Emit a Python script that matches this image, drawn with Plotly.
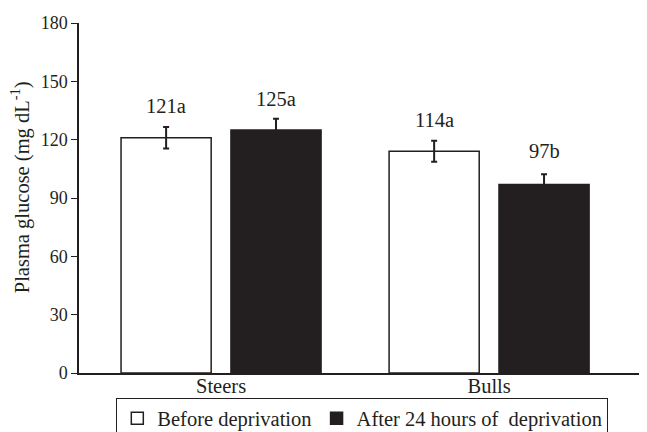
import plotly.graph_objects as go

categories = ["Steers", "Bulls"]
before = [121, 114]
after = [125, 97]
before_err = [5.5, 5.4]
after_err = [5.8, 5.2]
before_labels = ["121a", "114a"]
after_labels = ["125a", "97b"]
yticks = [0, 30, 60, 90, 120, 150, 180]
ytitle = "Plasma glucose (mg dL<sup>-1</sup>)"

xpos = list(range(len(categories)))
FONT = "Liberation Serif, Times New Roman, serif"
INK = "#231f20"
FS = 20.5

fig = go.Figure()
fig.add_trace(go.Bar(
    x=xpos, y=before, name="Before deprivation",
    marker=dict(color="white", line=dict(color=INK, width=1.5)),
    error_y=dict(type="data", array=before_err, color=INK, thickness=2, width=3),
))
fig.add_trace(go.Bar(
    x=xpos, y=after, name="After 24 hours of\u00a0 deprivation",
    marker=dict(color=INK, line=dict(color=INK, width=1.5)),
    error_y=dict(type="data", array=after_err, color=INK, thickness=2, width=3),
))

off = 0.205
shifts = [[8, 7], [8, 10]]
for i in xpos:
    fig.add_annotation(x=i - off, y=before[i] + before_err[i], text=before_labels[i],
                       showarrow=False, yanchor="bottom", yshift=shifts[i][0], xref="x", yref="y",
                       font=dict(size=FS, color=INK, family=FONT))
    fig.add_annotation(x=i + off, y=after[i] + after_err[i], text=after_labels[i],
                       showarrow=False, yanchor="bottom", yshift=shifts[i][1], xref="x", yref="y",
                       font=dict(size=FS, color=INK, family=FONT))

# y-axis title as rotated annotation for precise placement
fig.add_annotation(x=-0.105, y=0.531, xref="paper", yref="paper", text=ytitle,
                   textangle=-90, showarrow=False, xanchor="center", yanchor="middle",
                   font=dict(size=FS, color=INK, family=FONT))

fig.update_layout(
    width=647, height=432,
    margin=dict(l=71, r=15, t=15, b=67, autoexpand=False),
    plot_bgcolor="white", paper_bgcolor="white",
    font=dict(family=FONT, size=FS, color=INK),
    barmode="group", bargap=0.18, bargroupgap=0.18,
    showlegend=True,
    legend=dict(orientation="h", x=0.505, xanchor="center", y=-0.07, yanchor="top",
                bordercolor=INK, borderwidth=1, font=dict(size=FS, family=FONT, color=INK)),
)
fig.update_xaxes(range=[-0.53, 1.563], tickvals=xpos, ticktext=categories,
                 showline=True, linecolor=INK, linewidth=1.5, ticks="",
                 ticklabelstandoff=-6,
                 showgrid=False, zeroline=False, tickfont=dict(size=FS), automargin=False)
fig.update_yaxes(range=[0, 180], tickvals=yticks, showline=True, linecolor=INK,
                 linewidth=1.5, ticks="outside", ticklen=6, tickcolor=INK,
                 showgrid=False, zeroline=False, tickfont=dict(size=18), automargin=False)

fig.write_html("out.html")
